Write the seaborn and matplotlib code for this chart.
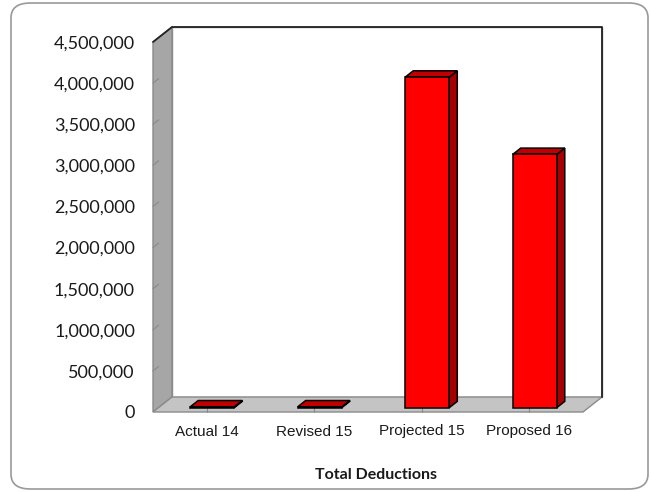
import matplotlib
matplotlib.use("Agg")
import matplotlib.pyplot as plt
import seaborn as sns
import pandas as pd
import numpy as np
from matplotlib.patches import Polygon, FancyBboxPatch
from matplotlib.transforms import Affine2D
from matplotlib.ticker import FuncFormatter

categories = ["Actual 14", "Revised 15", "Projected 15", "Proposed 16"]
values = [10000, 10000, 4020000, 3080000]
yticks = [0, 500000, 1000000, 1500000, 2000000, 2500000, 3000000, 3500000, 4000000, 4500000]
xlabel = "Total Deductions"

sns.set_theme(style="white")
plt.rcParams["font.family"] = ["Liberation Sans", "DejaVu Sans"]

W, H = 651, 492
fig = plt.figure(figsize=(W / 100, H / 100), dpi=100)
fig.patch.set_facecolor("white")

# rounded outer border
fig.patches.append(FancyBboxPatch((11 / W, 3 / H), 637 / W, 486 / H,
                                  boxstyle="round,pad=0,rounding_size=0.03",
                                  transform=fig.transFigure, facecolor="none",
                                  edgecolor="#999999", lw=1.2, zorder=-1))

ax = fig.add_axes([153 / W, (H - 412) / H, 430 / W, 370 / H])
ax.set_facecolor("none")

df = pd.DataFrame({"cat": categories, "val": values})
sns.barplot(data=df, x="cat", y="val", ax=ax, color="#ff0000", width=0.41,
            edgecolor="black", linewidth=1.1, saturation=1, zorder=5)

YMAX = yticks[-1]
ax.set_xlim(-0.5, len(categories) - 0.5)
ax.set_ylim(0, YMAX)

# depth in data units (full depth of the 3D box)
px_x = (len(categories)) / 430.0
px_y = YMAX / 370.0
DX, DY = 19 * px_x, 15 * px_y
front = 0.29   # bar front depth fraction
bdepth = 0.42  # bar depth fraction

x0l, x1l = -0.5, len(categories) - 0.5

bar_patches = list(ax.patches)

# walls and floor
left_wall = Polygon([(x0l, 0), (x0l + DX, DY), (x0l + DX, YMAX + DY), (x0l, YMAX)],
                    closed=True, facecolor="#a6a6a6", edgecolor="#8a8a8a", lw=1.0,
                    clip_on=False, zorder=1)
floor = Polygon([(x0l, 0), (x1l, 0), (x1l + DX, DY), (x0l + DX, DY)],
                closed=True, facecolor="#c4c4c4", edgecolor="#8a8a8a", lw=1.0,
                clip_on=False, zorder=1)
back = Polygon([(x0l + DX, DY), (x1l + DX, DY), (x1l + DX, YMAX + DY), (x0l + DX, YMAX + DY)],
               closed=True, facecolor="white", edgecolor="#8a8a8a", lw=1.0,
               clip_on=False, zorder=1)
for p in (back, left_wall, floor):
    ax.add_patch(p)
# darker top/right edges
ax.plot([x0l, x0l + DX, x1l + DX, x1l + DX], [YMAX, YMAX + DY, YMAX + DY, DY],
        color="#222222", lw=1.3, clip_on=False, zorder=2)

# small tick marks on the left wall and floor
for t in yticks[1:-1]:
    ax.plot([x0l, x0l + 0.3 * DX], [t, t + 0.3 * DY], color="#8a8a8a", lw=0.8,
            clip_on=False, zorder=2)
for i in range(len(categories)):
    ax.plot([i, i], [0, 0.5 * DY], color="#8a8a8a", lw=0.8, clip_on=False, zorder=2)

# 3D bars: shift fronts, add side and top faces
shift = Affine2D().translate(front * DX, front * DY)
for patch in bar_patches:
    patch.set_transform(shift + ax.transData)
    patch.set_clip_on(False)
    patch.set_zorder(5)
    bx0 = patch.get_x() + front * DX
    bx1 = bx0 + patch.get_width()
    by0 = front * DY
    by1 = by0 + patch.get_height()
    ddx, ddy = bdepth * DX, bdepth * DY
    side = Polygon([(bx1, by0), (bx1 + ddx, by0 + ddy), (bx1 + ddx, by1 + ddy), (bx1, by1)],
                   closed=True, facecolor="#a80000", edgecolor="black", lw=1.1,
                   clip_on=False, zorder=4)
    top = Polygon([(bx0, by1), (bx1, by1), (bx1 + ddx, by1 + ddy), (bx0 + ddx, by1 + ddy)],
                  closed=True, facecolor="#c00000", edgecolor="black", lw=1.1,
                  clip_on=False, zorder=4)
    ax.add_patch(side)
    ax.add_patch(top)

ax.set_yticks(yticks)
ax.yaxis.set_major_formatter(FuncFormatter(lambda v, p: f"{int(v):,}"))
ax.tick_params(axis="y", length=0, pad=13, labelsize=13)
ax.tick_params(axis="x", length=0, pad=9, labelsize=11)
for lab in ax.get_yticklabels():
    lab.set_fontfamily(["Lato", "DejaVu Sans"])
    lab.set_color("#1a1a1a")
for lab in ax.get_xticklabels():
    lab.set_color("#1a1a1a")
ax.set_xlabel("")
ax.set_ylabel("")
for s in ax.spines.values():
    s.set_visible(False)

fig.text(376 / W, 1 - 475 / H, xlabel, ha="center", va="center", fontsize=11.5,
         fontweight="bold", family=["Lato", "DejaVu Sans"], color="#1a1a1a")

fig.savefig("out.png", dpi=100)
